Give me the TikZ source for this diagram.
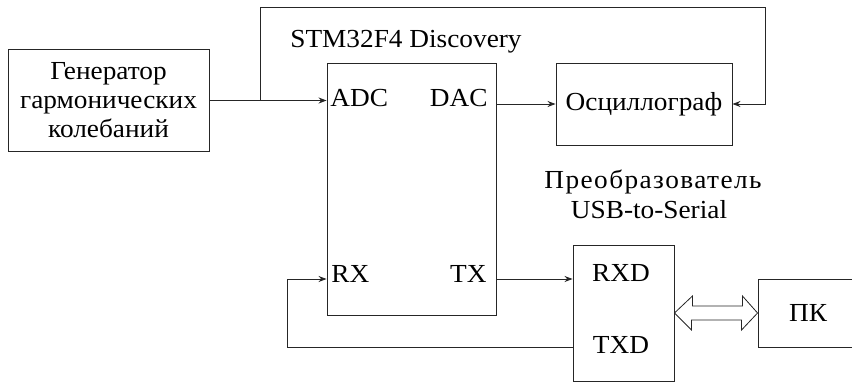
\documentclass[tikz,border=0pt]{standalone}
\usepackage{fontspec}
\setmainfont{Liberation Serif}[FakeStretch=1.05]
\usetikzlibrary{arrows.meta,calc}
\begin{document}
\begin{tikzpicture}[x=1pt,y=-1pt,
  line width=0.9pt, draw=black!85,
  box/.style={draw, rectangle, inner sep=0pt},
  lbl/.style={inner sep=0pt, font=\fontsize{26}{29}\selectfont},
  arr/.style={-{Stealth[length=8pt,width=6pt]}}]
\useasboundingbox (0,0) rectangle (852,383);
% boxes
\node[box, minimum width=201pt, minimum height=102pt] (gen) at (108.5,100.5) {};
\node[box, minimum width=169pt, minimum height=252pt] (stm) at (411.5,189) {};
\node[box, minimum width=176pt, minimum height=82pt] (osc) at (644,104) {};
\node[box, minimum width=101pt, minimum height=136pt] (conv) at (623.5,313) {};
\node[box, minimum width=112pt, minimum height=68pt] (pc) at (814,313) {};
% texts
\node[lbl, align=center] (gent) at (gen.center) {Генератор\\гармонических\\колебаний};
\node[lbl, anchor=base] (stmt) at (406,47) {STM32F4 Discovery};
\node[lbl, anchor=base west] (adc) at (330,106) {ADC};
\node[lbl, anchor=base east] (dac) at (488,106) {DAC};
\node[lbl, anchor=base west] (rx) at (331,282) {RX};
\node[lbl, anchor=base east] (tx) at (487,282) {TX};
\node[lbl] (osct) at (osc.center) {Осциллограф};
\node[lbl, anchor=base] (rxd) at (621,281) {RXD};
\node[lbl, anchor=base] (txd) at (621,353) {TXD};
\node[lbl, anchor=base] (pct) at (808,321) {ПК};
\node[lbl, anchor=base] (conv1) at (653,188) {\addfontfeature{LetterSpace=5.5}Преобразователь};
\node[lbl, anchor=base] (conv2) at (649,218) {USB-to-Serial};
% connectors
\coordinate (br) at (260,100.5);
\coordinate (tl) at (260,7);
\coordinate (tr) at (765,7);
\draw[arr] (gen.east) -- (stm.west |- gen.east);
\draw[arr] (br) -- (tl) -- (tr) |- (osc.east);
\draw[arr] (stm.east |- osc.west) -- (osc.west);
\coordinate (rxy) at (0,279);
\coordinate (txy) at (0,347);
\coordinate (lp) at (287,347);
\draw[arr] (stm.east |- rxy) -- (conv.west |- rxy);
\draw[arr] (conv.west |- txy) -- (lp) |- (stm.west |- rxy);
% hollow double arrow
\draw[line width=0.8pt] (conv.east)
  -- ++(18,-17) -- ++(0,10) -- ++(50,0) -- ++(0,-10) -- (pc.west)
  -- ++(-16,17) -- ++(0,-10) -- ++(-50,0) -- ++(0,10) -- cycle;
\end{tikzpicture}
\end{document}
